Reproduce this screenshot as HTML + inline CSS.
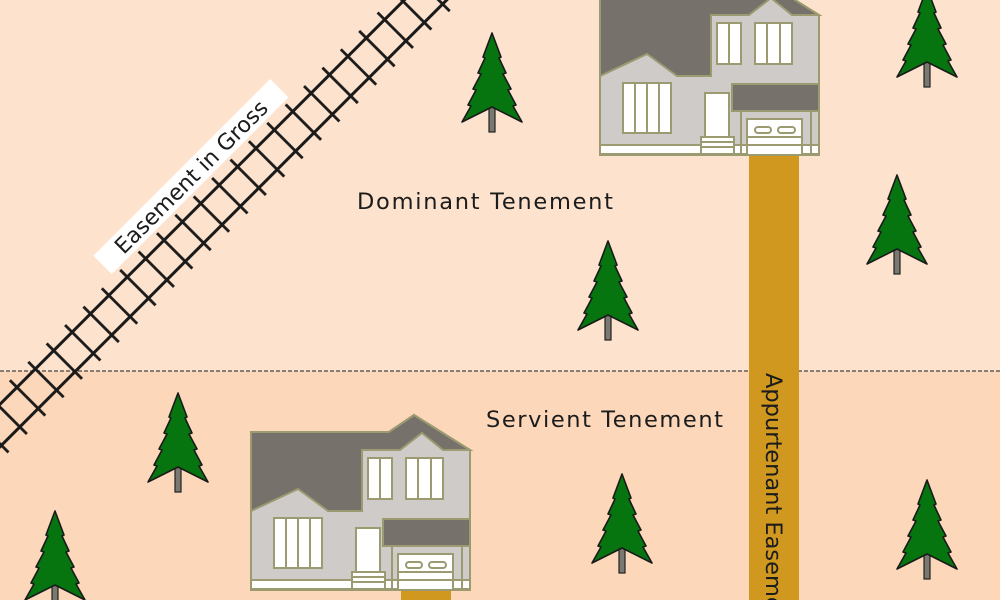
<!DOCTYPE html>
<html><head><meta charset="utf-8"><style>
html,body{margin:0;padding:0;width:1000px;height:600px;overflow:hidden;background:#fde2cd}
svg{display:block;overflow:hidden}
text{font-family:"DejaVu Sans","Liberation Sans",sans-serif;fill:#1c1c1c}
</style></head><body>
<svg width="1000" height="600" viewBox="0 0 1000 600" xmlns="http://www.w3.org/2000/svg">
<defs>
<clipPath id="frame"><rect x="0" y="0" width="1000" height="600"/></clipPath>
<pattern id="ties" x="0" y="-27" width="26" height="54" patternUnits="userSpaceOnUse">
<line x1="13" y1="2" x2="13" y2="52" stroke="#1a1a1a" stroke-width="2.8"/>
</pattern>
<g id="tree">
<rect x="-3" y="66" width="6" height="33" fill="#7a7870" stroke="#222" stroke-width="1.2"/>
<path d="M0,0 L-9,24 L-7,25 L-14,40 L-11,41 L-19,56 L-16,57 L-24,72 L-21,73 L-30,89 L0,74 L30,89 L21,73 L24,72 L16,57 L19,56 L11,41 L14,40 L7,25 L9,24 Z" fill="#067510" stroke="#1a1a1a" stroke-width="1.6" stroke-linejoin="round"/>
</g>
<g id="house" stroke="#9b9a70" stroke-width="2">
<polygon points="251,432 389,432 414,415 470,450 470,590 251,590" fill="#cfcbc9"/>
<polygon points="251,432 389,432 414,415 470,450 443,450 422,433 400,450 362,450 362,511 328,511 298,489 251,511" fill="#76716a"/>
<rect x="368" y="458" width="24" height="41" fill="#fff"/>
<line x1="380" y1="458" x2="380" y2="499"/>
<rect x="406" y="458" width="37" height="41" fill="#fff"/>
<line x1="418" y1="458" x2="418" y2="499"/><line x1="431" y1="458" x2="431" y2="499"/>
<rect x="274" y="518" width="48" height="50" fill="#fff"/>
<line x1="286" y1="518" x2="286" y2="568"/><line x1="298" y1="518" x2="298" y2="568"/><line x1="310" y1="518" x2="310" y2="568"/>
<rect x="251" y="580" width="219" height="9" fill="#fff"/>
<rect x="356" y="528" width="24" height="44" fill="#fff"/>
<rect x="352" y="572" width="33" height="17" fill="#fff"/>
<line x1="352" y1="577" x2="385" y2="577"/><line x1="352" y1="582" x2="385" y2="582"/>
<rect x="383" y="519" width="87" height="27" fill="#76716a"/>
<line x1="392" y1="546" x2="392" y2="590"/><line x1="462" y1="546" x2="462" y2="590"/>
<rect x="398" y="554" width="55" height="36" fill="#fff"/>
<line x1="398" y1="572" x2="453" y2="572"/><line x1="398" y1="580" x2="453" y2="580"/>
<rect x="406" y="562" width="16" height="6" rx="3" fill="#fff"/>
<rect x="429" y="562" width="17" height="6" rx="3" fill="#fff"/>
</g>
</defs>
<g clip-path="url(#frame)">
<rect x="0" y="0" width="1000" height="371" fill="#fde2cd"/>
<rect x="0" y="371" width="1000" height="229" fill="#fcd7ba"/>
<line x1="0" y1="371" x2="1000" y2="371" stroke="#444" stroke-width="1.2" stroke-dasharray="4,2"/>

<g transform="translate(0,425.5) rotate(-45)">
<rect x="-60" y="-27" width="760" height="54" fill="url(#ties)"/>
<line x1="-60" y1="-15" x2="700" y2="-15" stroke="#1a1a1a" stroke-width="3"/>
<line x1="-60" y1="15" x2="700" y2="15" stroke="#1a1a1a" stroke-width="3"/>
<rect x="186" y="-54" width="250" height="26" fill="#fff"/>
<text x="311" y="-33" font-size="22" text-anchor="middle">Easement in Gross</text>
</g>

<rect x="749" y="150" width="50" height="450" fill="#d0981e"/>
<rect x="401" y="588" width="50" height="12" fill="#d0981e"/>
<text transform="translate(766,373) rotate(90)" font-size="22.5">Appurtenant Easement</text>

<use href="#house"/>
<use href="#house" transform="translate(349,-435)"/>

<use href="#tree" transform="translate(492,33)"/>
<use href="#tree" transform="translate(927,-12)"/>
<use href="#tree" transform="translate(897,175)"/>
<use href="#tree" transform="translate(608,241)"/>
<use href="#tree" transform="translate(178,393)"/>
<use href="#tree" transform="translate(622,474)"/>
<use href="#tree" transform="translate(55,511)"/>
<use href="#tree" transform="translate(927,480)"/>

<text x="357" y="209" font-size="22.5" textLength="256">Dominant Tenement</text>
<text x="486" y="427" font-size="22.5" textLength="237">Servient Tenement</text>
</g>
</svg>
</body></html>
